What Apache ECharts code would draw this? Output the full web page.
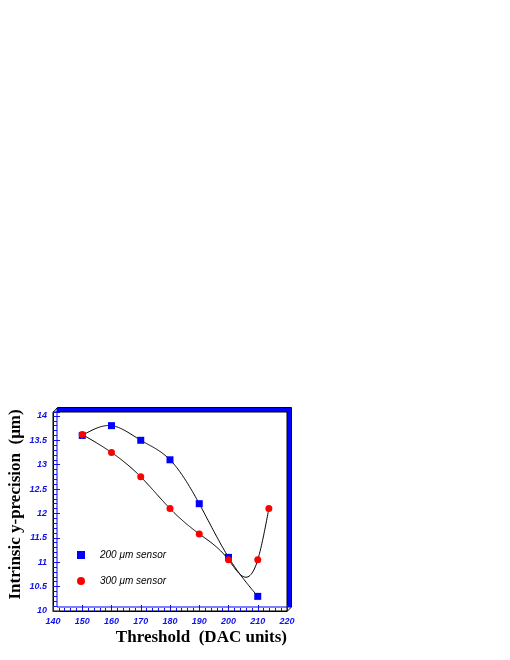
<!DOCTYPE html>
<html lang="en">
<head>
    <meta charset="UTF-8">
    <title>Intrinsic y-precision</title>
    <script src="https://cdnjs.cloudflare.com/ajax/libs/echarts/6.0.0/echarts.min.js"></script>
</head>
<body style="margin:0">
<div id="main" style="width: 510px;height:660px;"></div>
<script type="text/javascript">
    // threshold (DAC units) and precision (um)
    var thr200 = [150, 160, 170, 180, 190, 200, 210];
    var prec200 = [13.6, 13.8, 13.5, 13.1, 12.2, 11.1, 10.3];
    var thr300 = [150, 160, 170, 180, 190, 200, 210, 213.8];
    var prec300 = [13.62, 13.25, 12.75, 12.1, 11.58, 11.05, 11.05, 12.1];

    var names = ['200 \u03bcm sensor', '300 \u03bcm sensor'];

    function pairs(xs, ys) {
        return xs.map(function (x, i) {
            return [x, ys[i]];
        });
    }

    // natural cubic spline through the points (like the fitted curves of the original)
    function spline(xs, ys) {
        var n = xs.length, h = [], a = [], b = [], c = [], r = [], m = [];
        for (var i = 0; i < n - 1; i++) h[i] = xs[i + 1] - xs[i];
        m[0] = 0; m[n - 1] = 0;
        for (i = 1; i < n - 1; i++) {
            a[i] = h[i - 1];
            b[i] = 2 * (h[i - 1] + h[i]);
            c[i] = h[i];
            r[i] = 6 * ((ys[i + 1] - ys[i]) / h[i] - (ys[i] - ys[i - 1]) / h[i - 1]);
        }
        for (i = 2; i < n - 1; i++) {
            var w = a[i] / b[i - 1];
            b[i] -= w * c[i - 1];
            r[i] -= w * r[i - 1];
        }
        for (i = n - 2; i >= 1; i--) {
            m[i] = (r[i] - (i < n - 2 ? c[i] * m[i + 1] : 0)) / b[i];
        }
        return function (k, t) {
            var x0 = xs[k], hh = h[k];
            var x = x0 + t * hh;
            var A = (xs[k + 1] - x) / hh, B = (x - x0) / hh;
            return [x, A * ys[k] + B * ys[k + 1] +
                ((A * A * A - A) * m[k] + (B * B * B - B) * m[k + 1]) * hh * hh / 6];
        };
    }

    function curveSeries(xs, ys) {
        var f = spline(xs, ys);
        return {
            type: 'custom',
            silent: true,
            z: 2,
            data: pairs(xs, ys).slice(0, xs.length - 1),
            renderItem: function (params, api) {
                var k = params.dataIndex, pts = [];
                for (var s = 0; s <= 30; s++) {
                    pts.push(api.coord(f(k, s / 30)));
                }
                return {
                    type: 'polyline',
                    shape: {points: pts},
                    style: {stroke: '#000', lineWidth: 1, fill: null}
                };
            }
        };
    }

    var myChart = echarts.init(document.getElementById('main'));

    var labelStyle = {
        color: '#1010e8',
        fontFamily: 'Liberation Sans',
        fontStyle: 'italic',
        fontWeight: 'bold',
        fontSize: 9
    };

    var option = {
        animation: false,
        backgroundColor: '#fff',
        grid: {
            show: true,
            left: 53,
            right: 223,
            top: 412,
            bottom: 49,
            backgroundColor: '#fff',
            borderColor: '#000',
            borderWidth: 1,
            shadowColor: '#0000ff',
            shadowBlur: 0,
            shadowOffsetX: 4,
            shadowOffsetY: -4
        },
        // black outline of the blue 3D frame edge
        graphic: [{
            type: 'polyline',
            z: 10,
            shape: {points: [[53.5, 412], [57.5, 407.5], [291.5, 407.5], [291.5, 607], [287, 611.5]]},
            style: {stroke: '#000', lineWidth: 1, fill: null}
        }],
        legend: {
            orient: 'vertical',
            left: 77,
            top: 550,
            padding: 0,
            itemWidth: 8,
            itemHeight: 8,
            itemGap: 16,
            textStyle: {
                fontFamily: 'Liberation Sans',
                fontStyle: 'italic',
                fontSize: 10,
                color: '#000',
                padding: [0, 0, 0, 10]
            },
            data: [
                {name: names[0], icon: 'rect'},
                {name: names[1], icon: 'circle'}
            ]
        },
        xAxis: {
            type: 'value',
            min: 140,
            max: 220,
            interval: 10,
            name: 'Threshold  (DAC units)',
            nameLocation: 'end',
            nameGap: 0,
            nameTextStyle: {
                fontFamily: 'Liberation Serif',
                fontWeight: 'bold',
                fontSize: 17,
                color: '#000',
                align: 'right',
                verticalAlign: 'top',
                padding: [18, 0, 0, 0]
            },
            axisLine: {lineStyle: {color: '#000'}},
            axisTick: {inside: true, length: 6, lineStyle: {color: '#1010e8'}},
            minorTick: {show: true, splitNumber: 5, length: 3, lineStyle: {color: '#1010e8'}},
            axisLabel: Object.assign({margin: 6}, labelStyle),
            splitLine: {show: false}
        },
        yAxis: {
            type: 'value',
            min: 10,
            max: 14.08,
            interval: 0.5,
            name: 'Intrinsic y-precision  (\u03bcm)',
            nameLocation: 'middle',
            nameGap: 29,
            nameTextStyle: {
                fontFamily: 'Liberation Serif',
                fontWeight: 'bold',
                fontSize: 17,
                color: '#000',
                padding: [0, 0, 0, 14]
            },
            axisLine: {lineStyle: {color: '#000'}},
            axisTick: {inside: true, length: 7, lineStyle: {color: '#1010e8'}},
            minorTick: {show: true, splitNumber: 5, length: 4, lineStyle: {color: '#1010e8'}},
            axisLabel: Object.assign({margin: 6, showMaxLabel: false}, labelStyle),
            splitLine: {show: false}
        },
        series: [
            curveSeries(thr200, prec200),
            curveSeries(thr300, prec300),
            {
                name: names[0],
                type: 'scatter',
                z: 3,
                symbol: 'rect',
                symbolSize: 7,
                itemStyle: {color: '#0000ff', opacity: 1},
                data: pairs(thr200, prec200)
            }, {
                name: names[1],
                type: 'scatter',
                z: 3,
                symbol: 'circle',
                symbolSize: 7,
                itemStyle: {color: '#ff0000', opacity: 1},
                data: pairs(thr300, prec300)
            }]
    };
    myChart.setOption(option);
</script>
</body>
</html>
